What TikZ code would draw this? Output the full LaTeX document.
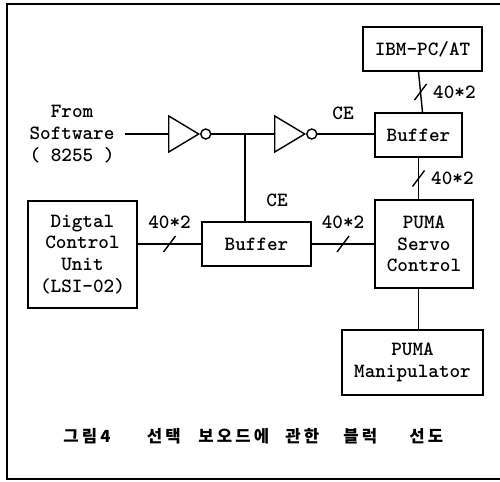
\documentclass[tikz,border=0pt]{standalone}
\usepackage{fontspec}
\newfontfamily\krfont{Noto Sans CJK KR}
\newcommand\hgl[1]{\makebox[10.53pt]{#1}}
\usetikzlibrary{positioning,shapes.geometric}
\begin{document}
\begin{tikzpicture}[x=0.2mm,y=-0.2mm,line width=0.8pt,
    every node/.style={font=\ttfamily\bfseries\fontsize{11.5}{12.4}\selectfont},
    blk/.style={draw,inner sep=0pt,align=center,minimum height=8.8mm},
    tri/.style={draw,isosceles triangle,isosceles triangle apex angle=62,
      inner sep=0pt,minimum height=6mm},
    bub/.style={draw,circle,inner sep=0pt,minimum size=2mm},
    lbl/.style={inner sep=0pt}]
  \useasboundingbox (0,0) rectangle (500,481);
  % frame, open on the right
  \draw[line width=1.1pt] (500,4) -- (7,4) -- (7,479) -- (500,479);
  % blocks
  \node[blk,minimum width=23.8mm] (ibm) at (422.5,49) {IBM-PC/AT};
  \node[blk,minimum width=17.4mm] (buf1) at (418.5,135) {Buffer};
  \node[blk,minimum width=19.6mm,minimum height=17.6mm] (servo) at (424,244) {PUMA\\Servo\\Control};
  \node[blk,minimum width=28.2mm,minimum height=13mm] (manip) at (412.5,362.5) {PUMA\\Manipulator};
  \node[blk,minimum width=21.8mm,minimum height=21.4mm] (dcu) at (82.5,254.5) {Digtal\\Control\\Unit\\(LSI-02)};
  \node[blk,minimum width=21.8mm] (buf2) at (256.5,244) {Buffer};
  % inverters
  \node[tri,anchor=west] (inv1) at (168,134) {};
  \node[bub,anchor=west] (bub1) at (inv1.apex) {};
  \node[tri,anchor=west] (inv2) at (274,134) {};
  \node[bub,anchor=west] (bub2) at (inv2.apex) {};
  \node[lbl,align=center] (sw) at (72,134) {From\\Software\\( 8255 )};
  \coordinate (src) at (125,134);
  \coordinate (jn) at (245,134);
  % wires
  \draw (src) -- (inv1.west);
  \draw (bub1) -- (jn) -- (inv2.west);
  \draw (jn) -- (jn |- buf2.north);
  \draw (bub2) -- (bub2 -| buf1.west);
  \draw (ibm.south |- buf1.north) -- coordinate[pos=.5] (s3) (ibm.south -| buf1.north);
  \draw (buf1.south) -- coordinate[pos=.5] (s4) (buf1.south |- servo.north);
  \draw (dcu.east |- buf2) -- coordinate[pos=.5] (s1) (buf2.west);
  \draw (buf2.east) -- coordinate[pos=.5] (s2) (servo.west |- buf2);
  \draw (buf1.south |- servo.south) -- (buf1.south |- manip.north);
  % bus slashes
  \foreach \s in {s1,s2,s3,s4}
    \draw (\s) ++(-6,8) -- ++(12,-16);
  \node[lbl,above=3mm of s1] (n1) {40*2};
  \node[lbl,above=3mm of s2] (n2) {40*2};
  \node[lbl,right=2.4mm of s3] (n3) {40*2};
  \node[lbl,right=2.4mm of s4] (n4) {40*2};
  \node[lbl] (ce1) at (343,113) {CE};
  \node[lbl] (ce2) at (277,200) {CE};
  % caption
  \node[lbl,font=\krfont\bfseries\fontsize{9.5}{12}\selectfont] (cap) at (253.25,436)
    {\hgl{그}\hgl{림}\hspace{1pt}\makebox[5.69pt]{4}\hspace{19.8pt}\hgl{선}\hgl{택}\hspace{8.25pt}\hgl{보}\hgl{오}\hgl{드}\hgl{에}\hspace{7.4pt}\hgl{관}\hgl{한}\hspace{11.95pt}\hgl{블}\hgl{럭}\hspace{16.5pt}\hgl{선}\hgl{도}};
\end{tikzpicture}
\end{document}
